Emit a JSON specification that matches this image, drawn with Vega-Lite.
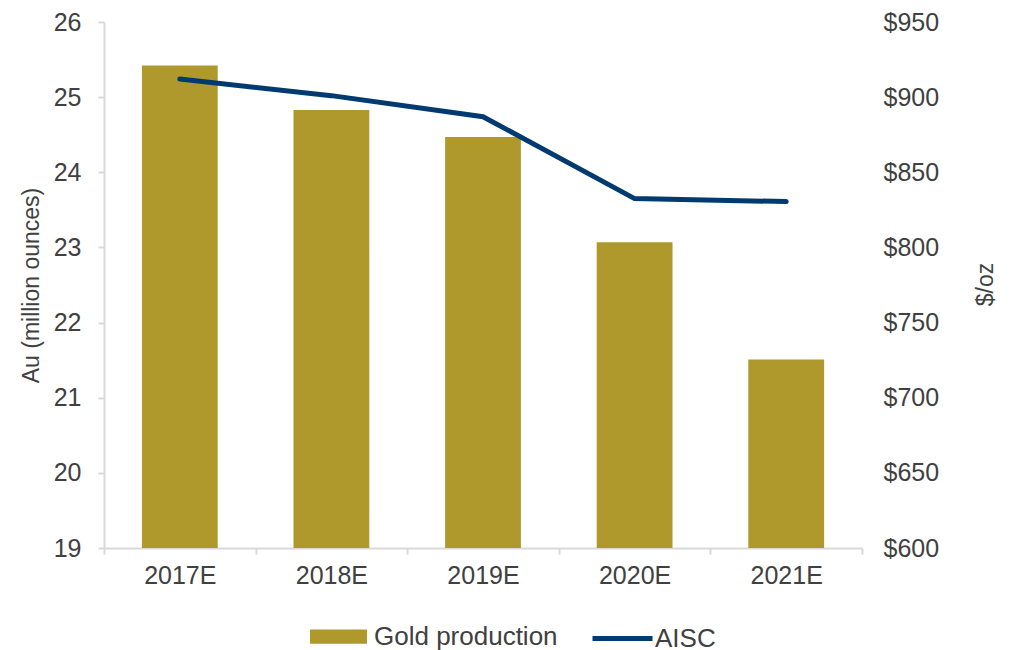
{
  "$schema": "https://vega.github.io/schema/vega-lite/v6.json",
  "width": 758,
  "height": 526,
  "autosize": {"type": "none"},
  "padding": {"left": 104, "top": 22, "right": 148, "bottom": 102},
  "background": "white",
  "config": {
    "view": {"stroke": null},
    "font": "Liberation Sans",
    "axis": {"labelFont": "Liberation Sans", "titleFont": "Liberation Sans", "labelColor": "#404040", "titleColor": "#404040", "grid": false, "titleFontWeight": "normal"},
    "legend": {"labelFont": "Liberation Sans", "labelColor": "#404040", "padding": 0, "labelLimit": 0}
  },
  "data": {
    "values": [
      {"year": "2017E", "gold": 25.42, "aisc": 912},
      {"year": "2018E", "gold": 24.83, "aisc": 901},
      {"year": "2019E", "gold": 24.47, "aisc": 887},
      {"year": "2020E", "gold": 23.07, "aisc": 832.5},
      {"year": "2021E", "gold": 21.51, "aisc": 830.5}
    ]
  },
  "encoding": {
    "x": {
      "field": "year",
      "type": "nominal",
      "sort": null,
      "scale": {"paddingInner": 0, "paddingOuter": 0},
      "axis": {
        "title": null,
        "labelAngle": 0,
        "labelFontSize": 25,
        "labelPadding": 9,
        "domainColor": "#D9D9D9",
        "domainWidth": 2,
        "tickColor": "#D9D9D9",
        "tickWidth": 2,
        "tickSize": 6,
        "tickBand": "extent"
      }
    }
  },
  "layer": [
    {
      "mark": {"type": "bar", "clip": true, "width": {"band": 0.5}},
      "encoding": {
        "y": {
          "field": "gold",
          "type": "quantitative",
          "scale": {"domain": [19, 26], "zero": false, "nice": false},
          "axis": {
            "title": "Au (million ounces)",
            "titleFontSize": 23,
            "titleAngle": -90,
            "titleX": -73,
            "titleY": 263,
            "titleAlign": "center",
            "titleBaseline": "middle",
            "values": [19, 20, 21, 22, 23, 24, 25, 26],
            "labelFontSize": 25,
            "labelPadding": 17,
            "domainColor": "#D9D9D9",
            "domainWidth": 2,
            "tickColor": "#D9D9D9",
            "tickWidth": 2,
            "tickSize": 6
          }
        },
        "color": {
          "datum": "Gold production",
          "type": "nominal",
          "scale": {"domain": ["Gold production"], "range": ["#B0992C"]},
          "legend": {
            "title": null,
            "orient": "none",
            "legendX": 205,
            "legendY": 585,
            "symbolType": "M-1,-0.25H1V0.25H-1Z",
            "symbolSize": 3249,
            "symbolOpacity": 1,
            "symbolFillColor": "#B0992C",
            "labelFontSize": 26,
            "labelOffset": 6
          }
        }
      }
    },
    {
      "mark": {"type": "line", "strokeWidth": 5, "strokeCap": "round"},
      "encoding": {
        "y": {
          "field": "aisc",
          "type": "quantitative",
          "scale": {"domain": [600, 950], "zero": false, "nice": false},
          "axis": {
            "orient": "right",
            "title": "$/oz",
            "titleFontSize": 23,
            "titleAngle": -90,
            "titleX": 123,
            "titleY": 262,
            "titleAlign": "center",
            "titleBaseline": "middle",
            "values": [600, 650, 700, 750, 800, 850, 900, 950],
            "format": "$.0f",
            "labelFontSize": 25,
            "labelPadding": 21,
            "domain": false,
            "ticks": false
          }
        },
        "stroke": {
          "datum": "AISC",
          "type": "nominal",
          "scale": {"domain": ["AISC"], "range": ["#003A70"]},
          "legend": {
            "title": null,
            "orient": "none",
            "legendX": 486,
            "legendY": 584,
            "symbolType": "stroke",
            "symbolSize": 3600,
            "symbolStrokeWidth": 5,
            "labelFontSize": 26,
            "labelOffset": 0
          }
        }
      }
    }
  ],
  "resolve": {"scale": {"y": "independent"}}
}
